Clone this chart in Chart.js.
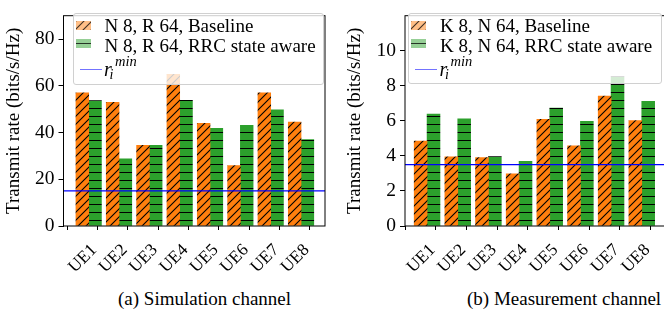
<!DOCTYPE html>
<html><head><meta charset="utf-8">
<script src="https://cdn.jsdelivr.net/npm/chart.js@4/dist/chart.umd.min.js"></script>
<style>
html,body{margin:0;padding:0;background:#fff;width:664px;height:322px;overflow:hidden;position:relative;font-family:'Liberation Serif',serif;}
.panel{position:absolute;top:0;height:280px;}
.panel canvas{display:block;position:absolute;left:0;top:0}
.legend{position:absolute;background:rgba(255,255,255,0.8);border:1px solid #d0d0d0;border-radius:3px;box-sizing:border-box;}
.legend .t{position:absolute;white-space:nowrap;font-size:19px;line-height:20px;color:#000}
.legend .m{position:absolute;white-space:nowrap;font-style:italic;color:#000}
.legend canvas{position:absolute}
.cap{position:absolute;font-size:19px;line-height:19px;white-space:nowrap;color:#000}
</style></head><body>
<div class="panel" id="pa" style="left:0;width:332px"><canvas id="ca" width="332" height="280"></canvas></div>
<div class="panel" id="pb" style="left:332px;width:340px"><canvas id="cb" width="340" height="280"></canvas></div>
<div class="cap" id="capA" style="left:118px;top:289px"></div>
<div class="cap" id="capB" style="left:467px;top:289px"></div>
<script>
// ---------- data ----------
const categories = ['UE1','UE2','UE3','UE4','UE5','UE6','UE7','UE8'];

const simBaseline = [57.0, 52.9, 34.5, 64.9, 43.9, 25.9, 57.0, 44.5];
const simRRC      = [53.7, 28.7, 34.5, 53.8, 41.8, 43.1, 49.7, 37.0];
const simRmin     = 15;
const simYTicks   = [0, 20, 40, 60, 80];
const simLabels   = ['N 8, R 64, Baseline', 'N 8, R 64, RRC state aware'];

const measBaseline = [4.85, 3.95, 3.91, 2.98, 6.08, 4.57, 7.42, 6.02];
const measRRC      = [6.39, 6.11, 3.96, 3.69, 6.73, 5.97, 8.52, 7.11];
const measRmin     = 3.5;
const measYTicks   = [0, 2, 4, 6, 8, 10];
const measLabels   = ['K 8, N 64, Baseline', 'K 8, N 64, RRC state aware'];

const yTitle = 'Transmit rate (bits/s/Hz)';
const captions = ['(a) Simulation channel', '(b) Measurement channel'];

// ---------- styling ----------
const FONT = "'Liberation Serif', 'Times New Roman', serif";
const ORANGE = '#ff7f0e', GREEN = '#2ca02c', BLUE = '#0000ff';
const BW = 0.42; // bar width in category units

function diagPattern(ctx, fill, alpha) {
  const c = document.createElement('canvas'); c.width = 8; c.height = 8;
  const g = c.getContext('2d');
  g.fillStyle = fill; g.fillRect(0, 0, 8, 8);
  g.strokeStyle = 'rgba(0,0,0,' + alpha + ')'; g.lineWidth = 1.1;
  g.beginPath();
  g.moveTo(-1, 9); g.lineTo(9, -1);
  g.moveTo(-1, 1); g.lineTo(1, -1);
  g.moveTo(7, 9); g.lineTo(9, 7);
  g.stroke();
  return ctx.createPattern(c, 'repeat');
}
function horizPattern(ctx, fill, alpha) {
  const c = document.createElement('canvas'); c.width = 8; c.height = 8;
  const g = c.getContext('2d');
  g.fillStyle = fill; g.fillRect(0, 0, 8, 8);
  g.fillStyle = 'rgba(0,0,0,' + alpha + ')'; g.fillRect(0, 4, 8, 1);
  return ctx.createPattern(c, 'repeat');
}

const framePlugin = {
  id: 'frame',
  afterDatasetsDraw(chart) {
    const { ctx, chartArea: a } = chart;
    ctx.save();
    ctx.strokeStyle = '#000'; ctx.lineWidth = 1;
    ctx.strokeRect(a.left, a.top, a.right - a.left, a.bottom - a.top);
    ctx.restore();
  }
};

function makeChart(id, cfg) {
  const canvas = document.getElementById(id);
  const ctx = canvas.getContext('2d');
  const xy = (arr, off) => arr.map((v, i) => ({ x: i + off, y: v }));
  return new Chart(ctx, {
    type: 'bar',
    data: {
      datasets: [
        { type: 'line', label: 'rmin', data: [{ x: cfg.xmin, y: cfg.rmin }, { x: cfg.xmax, y: cfg.rmin }],
          borderColor: BLUE, borderWidth: 1.2, pointRadius: 0, order: 0, clip: 0 },
        { label: cfg.labels[0], data: xy(cfg.base, 0), backgroundColor: diagPattern(ctx, ORANGE, 1),
          borderWidth: 0, grouped: false, categoryPercentage: 1, barPercentage: 1, order: 1 },
        { label: cfg.labels[1], data: xy(cfg.rrc, BW), backgroundColor: horizPattern(ctx, GREEN, 1),
          borderWidth: 0, grouped: false, categoryPercentage: 1, barPercentage: 1, order: 1 }
      ]
    },
    options: {
      responsive: false, animation: false,
      layout: { padding: { left: 0, right: cfg.padRight, top: 6, bottom: 0 } },
      plugins: { legend: { display: false }, tooltip: { enabled: false } },
      scales: {
        x: {
          type: 'linear', min: cfg.xmin, max: cfg.xmax, offset: false, bounds: 'data',
          afterBuildTicks: s => { s.ticks = categories.map((c, i) => ({ value: i })); },
          afterFit: s => { s.height = 54; },
          grid: { display: true, drawOnChartArea: false, drawTicks: true, tickLength: 4, color: '#000', lineWidth: 1 },
          border: { display: false },
          ticks: { autoSkip: false, minRotation: 45, maxRotation: 45, labelOffset: 12, padding: 10,
                   color: '#000', font: { family: FONT, size: 17.5 }, callback: v => categories[v] }
        },
        y: {
          min: 0, max: cfg.ymax, bounds: 'data',
          afterBuildTicks: s => { s.ticks = cfg.yticks.map(v => ({ value: v })); },
          afterFit: s => { s.width = cfg.yW; },
          grid: { display: true, drawOnChartArea: false, drawTicks: true, tickLength: 5, color: '#000', lineWidth: 1 },
          border: { display: false },
          ticks: { padding: 4, color: '#000', font: { family: FONT, size: 19.5 } },
          title: { display: true, text: yTitle, color: '#000', font: { family: FONT, size: 19 },
                   padding: { top: cfg.titlePad, bottom: 0 } }
        }
      }
    },
    plugins: [framePlugin]
  });
}

function buildLegend(panelId, box, labels) {
  const panel = document.getElementById(panelId);
  const d = document.createElement('div'); d.className = 'legend';
  Object.assign(d.style, { left: box.l + 'px', top: box.t + 'px', width: box.w + 'px', height: box.h + 'px' });
  // patches
  const mk = (top, fn, fill) => {
    const c = document.createElement('canvas'); c.width = 15; c.height = 9;
    Object.assign(c.style, { left: '2px', top: top + 'px' });
    const g = c.getContext('2d');
    g.fillStyle = fn(g, fill, 0.75); g.fillRect(0, 0, 15, 9);
    d.appendChild(c);
  };
  mk(7, diagPattern, '#ffbf87');
  mk(25, horizPattern, '#96cf96');
  labels.forEach((txt, k) => {
    const t = document.createElement('div'); t.className = 't'; t.textContent = txt;
    Object.assign(t.style, { left: '31px', top: (1.5 + k * 20.6) + 'px' });
    d.appendChild(t);
  });
  // line handle
  const ln = document.createElement('div');
  Object.assign(ln.style, { position: 'absolute', left: '6px', top: '54.5px', width: '22px', height: '1.5px', background: 'rgba(40,40,255,0.65)' });
  d.appendChild(ln);
  // math r_i^min
  const span = (txt, fs, left, baseline) => {
    const s = document.createElement('div'); s.className = 'm'; s.textContent = txt;
    Object.assign(s.style, { fontSize: fs + 'px', lineHeight: fs + 'px', left: left + 'px', top: (baseline - 0.8375 * fs) + 'px' });
    d.appendChild(s);
  };
  span('r', 20, 30.5, 61.5);
  span('i', 14, 36, 65.5);
  span('min', 14.5, 41.5, 52);
  panel.appendChild(d);
}

makeChart('ca', { base: simBaseline, rrc: simRRC, rmin: simRmin, yticks: simYTicks, ymax: 90,
  xmin: -0.62, xmax: 8.0, yW: 63.5, padRight: 7, titlePad: 3, labels: simLabels });
makeChart('cb', { base: measBaseline, rrc: measRRC, rmin: measRmin, yticks: measYTicks, ymax: 12,
  xmin: -0.51, xmax: 8.0, yW: 73, padRight: 6, titlePad: 12, labels: measLabels });

buildLegend('pa', { l: 72.5, t: 13, w: 251, h: 72 }, simLabels);
buildLegend('pb', { l: 76, t: 13, w: 254, h: 71 }, measLabels);

document.getElementById('capA').textContent = captions[0];
document.getElementById('capB').textContent = captions[1];
</script>
</body></html>
